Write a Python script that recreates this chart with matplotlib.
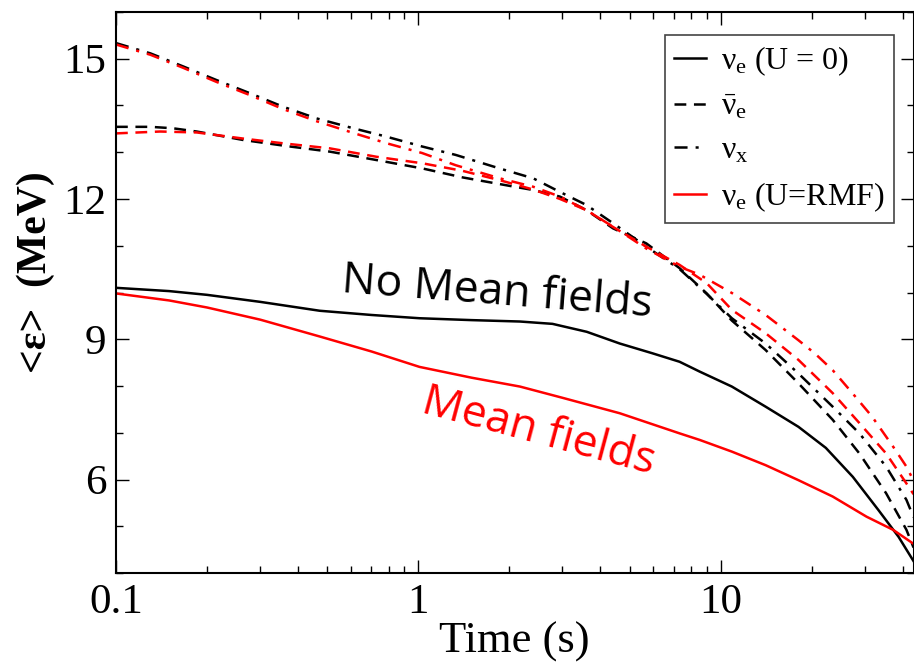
import matplotlib
matplotlib.use('Agg')
import matplotlib.pyplot as plt
from matplotlib.ticker import MultipleLocator, NullFormatter, FuncFormatter

# valores: tiempo (s) y energia media (MeV)
t_nue_u0 = [0.1, 0.15, 0.2, 0.3, 0.472, 0.7, 1.01, 1.5, 2.17, 2.78, 3.61, 4.64,
            5.96, 7.32, 8.53, 10.9, 14.1, 18.1, 22.3, 27.4, 33.3, 38.8, 43.5]
e_nue_u0 = [10.1, 10.03, 9.95, 9.8, 9.61, 9.52, 9.45, 9.41, 9.38, 9.33, 9.16, 8.91,
            8.70, 8.52, 8.31, 7.99, 7.56, 7.13, 6.68, 6.06, 5.35, 4.78, 4.26]

t_nue_rmf = [0.1, 0.15, 0.2, 0.3, 0.472, 0.7, 1.01, 1.5, 2.17, 3.0, 4.64, 7.32,
             8.53, 10.9, 14.1, 18.1, 23.5, 30.4, 37.2, 43.5]
e_nue_rmf = [9.98, 9.83, 9.68, 9.42, 9.06, 8.74, 8.41, 8.18, 7.99, 7.75, 7.42, 6.99,
             6.85, 6.6, 6.31, 5.99, 5.64, 5.21, 4.93, 4.63]

t_anue_u0 = [0.1, 0.13, 0.154, 0.185, 0.263, 0.366, 0.51, 0.728, 1.034, 1.4, 2.0, 2.4,
             2.94, 3.6, 4.41, 5.68, 7.32, 9.0, 10.9, 14.1, 18.1, 23.5, 28.8, 35.3,
             41.2, 43.5]
e_anue_u0 = [13.54, 13.54, 13.51, 13.44, 13.26, 13.13, 13.01, 12.83, 12.65, 12.46, 12.28, 12.19,
             12.05, 11.76, 11.37, 11.05, 10.52, 9.98, 9.4, 8.77, 8.06, 7.28, 6.56, 5.71,
             4.93, 4.55]

t_anue_rmf = [0.1, 0.14, 0.185, 0.263, 0.366, 0.51, 0.728, 1.034, 1.4, 1.86, 2.4, 2.94,
              3.6, 4.41, 5.68, 7.32, 9.0, 10.9, 14.1, 18.1, 23.5, 28.8, 35.3, 41.2, 43.5]
e_anue_rmf = [13.40, 13.44, 13.42, 13.29, 13.18, 13.08, 12.90, 12.76, 12.6, 12.4, 12.2, 12.0,
              11.76, 11.40, 10.98, 10.59, 10.2, 9.63, 9.13, 8.56, 7.85, 7.21, 6.56, 5.92, 5.69]

t_nux_u0 = [0.1, 0.13, 0.167, 0.215, 0.277, 0.357, 0.461, 0.609, 0.785, 1.03, 1.33, 1.86,
            2.4, 2.94, 3.6, 4.41, 5.68, 7.32, 9.0, 10.9, 14.1, 18.1, 23.5, 28.8, 35.3,
            41.2, 43.5]
e_nux_u0 = [15.33, 15.11, 14.83, 14.54, 14.26, 13.97, 13.72, 13.51, 13.33, 13.12, 12.94, 12.65,
            12.44, 12.15, 11.87, 11.48, 10.98, 10.5, 9.97, 9.45, 8.91, 8.27, 7.56, 6.99, 6.28,
            5.57, 5.2]

t_nux_rmf = [0.1, 0.13, 0.167, 0.215, 0.277, 0.357, 0.461, 0.609, 0.785, 1.03, 1.33, 1.86,
             2.4, 2.94, 3.6, 4.5, 5.68, 7.32, 8.53, 10.9, 14.1, 18.1, 20.5, 23.5, 27.3,
             31.7, 37.2, 41.2, 43.5]
e_nux_rmf = [15.3, 15.08, 14.8, 14.5, 14.22, 13.92, 13.66, 13.41, 13.19, 12.98, 12.72, 12.44,
             12.26, 12.05, 11.76, 11.37, 10.94, 10.55, 10.38, 9.99, 9.52, 8.98, 8.70, 8.34, 7.85,
             7.35, 6.71, 6.28, 5.98]

plt.rcParams['font.family'] = 'Liberation Serif'
plt.rcParams['mathtext.fontset'] = 'custom'
plt.rcParams['mathtext.rm'] = 'Liberation Serif'
plt.rcParams['mathtext.it'] = 'Liberation Serif'
plt.rcParams['mathtext.bf'] = 'Liberation Serif:bold'
plt.rcParams['lines.scale_dashes'] = False

fig = plt.figure(figsize=(9.14, 6.62), dpi=100)
ax = fig.add_axes([0.1269, 0.134, 0.8726, 0.8483])

rayas = (0, (8.5, 5.5))
raya_punto = (0, (9.4, 5.8, 2.2, 5.8))
lw = 1.8

ax.plot(t_nue_u0, e_nue_u0, color='black', lw=lw, label=r'$\nu_e$ (U = 0)')
ax.plot(t_anue_u0, e_anue_u0, color='black', lw=lw, ls=rayas, label=r'$\bar{\nu}_e$')
ax.plot(t_nux_u0, e_nux_u0, color='black', lw=lw, ls=raya_punto, label=r'$\nu_x$')
ax.plot(t_nue_rmf, e_nue_rmf, color='red', lw=lw, label=r'$\nu_e$ (U=RMF)')
ax.plot(t_anue_rmf, e_anue_rmf, color='red', lw=lw, ls=rayas)
ax.plot(t_nux_rmf, e_nux_rmf, color='red', lw=lw, ls=raya_punto)

ax.set_xscale('log')
ax.set_xlim(0.1, 43.5)
ax.set_ylim(4, 16)
ax.yaxis.set_major_locator(MultipleLocator(3))
ax.yaxis.set_minor_locator(MultipleLocator(1))
ax.xaxis.set_major_formatter(FuncFormatter(lambda v, p: f'{v:g}'))
ax.xaxis.set_minor_formatter(NullFormatter())

ax.tick_params(which='both', direction='in', top=True, right=True, width=1.0,
               labelsize=31, pad=7)
ax.tick_params(which='major', length=9.5)
ax.tick_params(which='minor', length=5)
for s in ax.spines.values():
    s.set_linewidth(1.5)

ax.set_xlabel('Time (s)', fontsize=32, labelpad=0)
ax.set_ylabel('<ε>  (MeV)', fontsize=30, fontweight='bold')
ax.yaxis.set_label_coords(-0.077, 0.5365)

ax.text(1.82, 9.99, 'No Mean fields', family='Open Sans', fontsize=32,
        rotation=-4.5, ha='center', va='center', color='black')
ax.text(2.5, 7.02, 'Mean fields', family='Open Sans', fontsize=32,
        rotation=-15, ha='center', va='center', color='red')

leg = ax.legend(loc='upper right', bbox_to_anchor=(0.9755, 0.9585), borderaxespad=0,
                fontsize=23, fancybox=False, edgecolor='#444444', framealpha=1,
                handlelength=1.0, handletextpad=0.45, labelspacing=0.45, borderpad=0.3)
leg.get_frame().set_linewidth(1.2)

fig.savefig('out.png', dpi=100)
